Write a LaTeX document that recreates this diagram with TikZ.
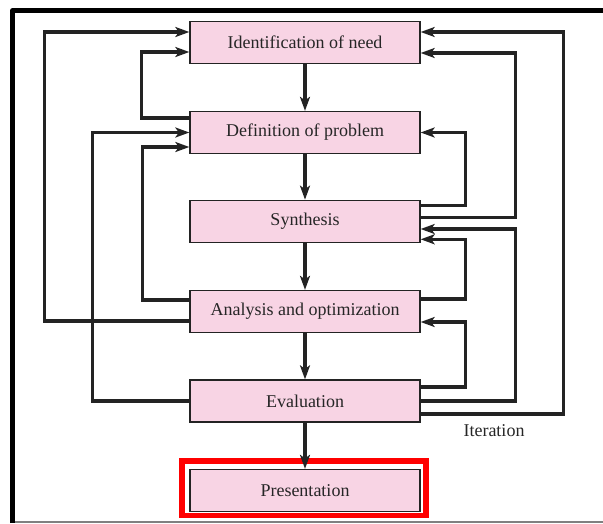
\documentclass[tikz,border=0pt]{standalone}
\usepackage{fontspec}
\setmainfont{Liberation Serif}
\usepackage{xcolor}
\usetikzlibrary{arrows.meta}
\definecolor{boxpink}{RGB}{248,212,228}
\definecolor{linegray}{RGB}{35,35,35}

\begin{document}
\begin{tikzpicture}[x=1pt,y=-1pt,
  stepbox/.style={draw=linegray,line width=1.3pt,fill=boxpink,minimum width=230pt,minimum height=42pt,
    inner sep=0pt,font=\fontsize{18}{20}\selectfont,text=black!85},
  flow/.style={draw=linegray,line width=3.3pt,-{Stealth[length=14pt,width=10pt,inset=3.5pt]}},
  back/.style={flow,rounded corners=0pt}]
\useasboundingbox (0,0) rectangle (603,523);
\draw[line width=4.7pt,line join=round] (12.5,523) -- (12.5,10.7) -- (603,10.7);
\draw[gray,line width=1.5pt] (15,521.8) -- (603,521.8);
\node[stepbox] (need) at (305,42.5) {Identification of need};
\node[stepbox] (prob) at (305,132.5) {Definition of problem};
\node[stepbox] (syn) at (305,221.3) {Synthesis};
\node[stepbox] (ana) at (305,311.5) {Analysis and optimization};
\node[stepbox] (eva) at (305,401) {Evaluation};
\node[stepbox] (pre) at (305,490.5) {Presentation};
\node[font=\fontsize{18}{20}\selectfont,text=black!85] (iter) at (494,431) {Iteration};
\draw[red,line width=5.5pt] ([xshift=-7.3pt,yshift=8pt]pre.north west) rectangle ([xshift=5.2pt,yshift=-3.5pt]pre.south east);
\draw[flow] (need) -- (prob);
\draw[flow] (prob) -- (syn);
\draw[flow] (syn) -- (ana);
\draw[flow] (ana) -- (eva);
\draw[flow] (eva) -- (pre);
\draw[back] ([yshift=-9.5pt]ana.west) -- ++(-145,0) |- ([yshift=10.5pt]need.west);
\draw[back] ([yshift=14.5pt]prob.west) -- ++(-48,0) |- ([yshift=-9.5pt]need.west);
\draw[back] (eva.west) -- ++(-97,0) |- (prob.west);
\draw[back] ([yshift=11.5pt]ana.west) -- ++(-47,0) |- ([yshift=-14.5pt]prob.west);
\draw[back] ([yshift=-13pt]eva.east) -- ++(143,0) |- ([yshift=10.5pt]need.east);
\draw[back] ([yshift=4pt]syn.east) -- ++(95,0) |- ([yshift=-10.5pt]need.east);
\draw[back] ([yshift=16pt]syn.east) -- ++(45,0) |- (prob.east);
\draw[back] (eva.east) -- ++(95,0) |- ([yshift=-7.7pt]syn.east);
\draw[back] ([yshift=12.5pt]ana.east) -- ++(45,0) |- ([yshift=-18pt]syn.east);
\draw[back] ([yshift=14pt]eva.east) -- ++(45,0) |- ([yshift=-10.5pt]ana.east);
\end{tikzpicture}
\end{document}
